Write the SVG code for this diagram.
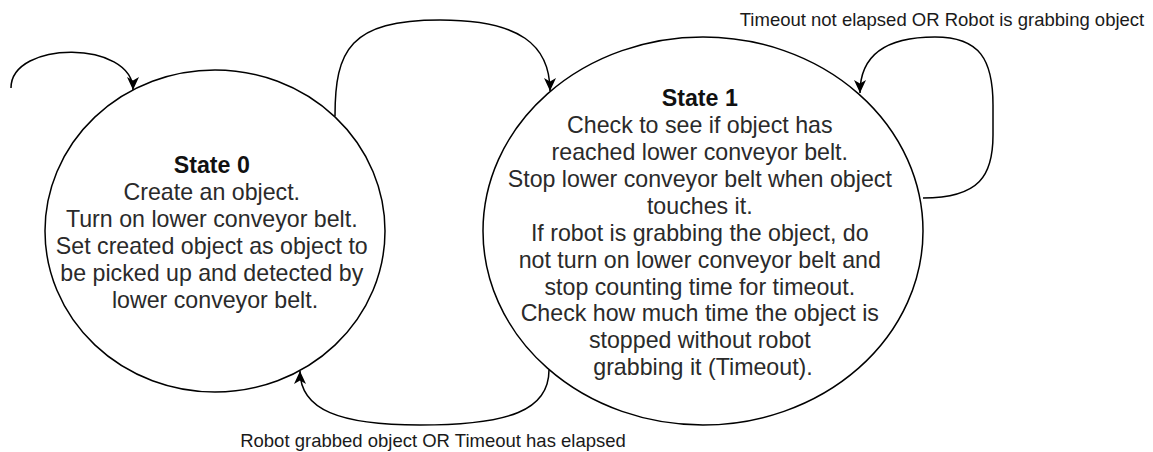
<svg xmlns="http://www.w3.org/2000/svg" width="1153" height="452" viewBox="0 0 1153 452">
  <style>
    .state { fill: #ffffff; stroke: #000000; stroke-width: 1.5; }
    .node-text { font-family: "Liberation Sans", Arial, Helvetica, sans-serif; font-size: 23.2px; fill: #2a2a2a; text-anchor: middle; }
    .title { font-weight: bold; fill: #111111; }
    .edge { fill: none; stroke: #000000; stroke-width: 1.5; marker-end: url(#arrow); }
    .edge-label { font-family: "Liberation Sans", Arial, Helvetica, sans-serif; font-size: 18.5px; fill: #1a1a1a; text-anchor: middle; }
  </style>
  <defs>
    <marker id="arrow" markerUnits="userSpaceOnUse" markerWidth="14" markerHeight="12" viewBox="0 0 14 12" refX="13" refY="6" orient="auto">
      <path d="M0,0 L13,6 L0,12 L3.5,6 Z" fill="#000000"/>
    </marker>
  </defs>

  <rect width="1153" height="452" fill="#ffffff"/>

  <!-- State 0 -->
  <g id="state0">
    <ellipse class="state" cx="215" cy="231" rx="170" ry="161"/>
    <text class="node-text">
      <tspan class="title" x="215" y="173">State 0</tspan>
      <tspan x="215" y="200">Create an object.</tspan>
      <tspan x="215" y="227">Turn on lower conveyor belt.</tspan>
      <tspan x="215" y="254">Set created object as object to</tspan>
      <tspan x="215" y="281">be picked up and detected by</tspan>
      <tspan x="215" y="308">lower conveyor belt.</tspan>
    </text>
  </g>

  <!-- State 1 -->
  <g id="state1">
    <ellipse class="state" cx="703" cy="231" rx="220" ry="194"/>
    <text class="node-text">
      <tspan class="title" x="703" y="106">State 1</tspan>
      <tspan x="703" y="133">Check to see if object has</tspan>
      <tspan x="703" y="160">reached lower conveyor belt.</tspan>
      <tspan x="703" y="187">Stop lower conveyor belt when object</tspan>
      <tspan x="703" y="214">touches it.</tspan>
      <tspan x="703" y="241">If robot is grabbing the object, do</tspan>
      <tspan x="703" y="268">not turn on lower conveyor belt and</tspan>
      <tspan x="703" y="295">stop counting time for timeout.</tspan>
      <tspan x="703" y="321">Check how much time the object is</tspan>
      <tspan x="703" y="348">stopped without robot</tspan>
      <tspan x="703" y="375">grabbing it (Timeout).</tspan>
    </text>
  </g>

  <!-- Transitions -->
  <g id="connectors">
    <!-- initial transition into State 0 -->
    <path class="edge" d="M11,88 C11,40 133,40 133,90"/>
    <!-- State 0 to State 1 -->
    <path class="edge" d="M335,116 C335,50 350,20 440,20 C520,20 550,45 550,91"/>
    <!-- State 1 self-loop -->
    <path class="edge" d="M923,198 C980,198 993,175 993,135 L993,105 C993,60 980,37 935,37 C890,37 860,52 860,93"/>
    <!-- State 1 back to State 0 -->
    <path class="edge" d="M549,370 C549,410 510,425 420,425 C340,425 300,410 300,371"/>
    <text class="edge-label" x="942" y="26">Timeout not elapsed OR Robot is grabbing object</text>
    <text class="edge-label" x="433" y="447">Robot grabbed object OR Timeout has elapsed</text>
  </g>
</svg>
